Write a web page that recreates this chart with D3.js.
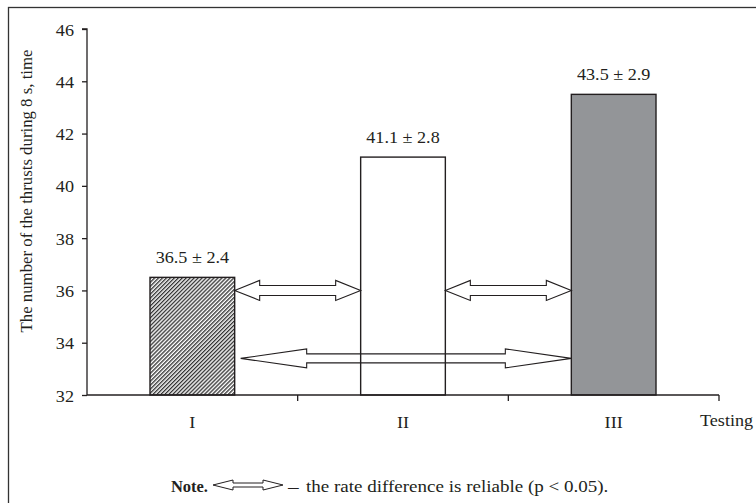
<!DOCTYPE html>
<html>
<head>
<meta charset="utf-8">
<script src="https://cdn.jsdelivr.net/npm/d3@7/dist/d3.min.js"></script>
<style>
  html, body { margin: 0; padding: 0; background: #fff; }
  svg { display: block; }
</style>
</head>
<body>
<svg id="chart" width="756" height="503"></svg>
<script>
// ---- data ----
const categories = ["I", "II", "III"];
const means = [36.5, 41.1, 43.5];
const sds = [2.4, 2.8, 2.9];
const fills = ["hatch", "#ffffff", "#939598"];
const yTicks = [32, 34, 36, 38, 40, 42, 44, 46];
const compFrom = ["I", "II", "I"];
const compTo = ["II", "III", "III"];
const compLevel = [36, 36, 33.4];
const compHead = [25, 25, 66];
const yTitle = "The number of the thrusts during 8 s, time";
const xTitle = "Testing";
const noteBold = "Note.";
const noteDash = "\u2014";
const noteText = "the rate difference is reliable (p < 0.05).";

// ---- layout ----
const FONT = "'Liberation Serif', 'Times New Roman', Tinos, serif";
const SX = 1.1; // horizontal stretch of the source image
const svg = d3.select("#chart");
const X0 = 87, X1 = 719, Y0 = 395, Y1 = 29;
const ink = "#231f20";

function htext(parent, tx, ty, str, size, anchor, sx) {
  return parent.append("text")
    .attr("transform", `translate(${tx},${ty}) scale(${sx || SX},1)`)
    .attr("font-family", FONT).attr("font-size", size).attr("fill", ink)
    .attr("text-anchor", anchor || "start").text(str);
}

svg.append("rect").attr("x", 8.5).attr("y", 7.5).attr("width", 800).attr("height", 600)
  .attr("fill", "none").attr("stroke", "#333").attr("stroke-width", 1.3);

const defs = svg.append("defs");
const pat = defs.append("pattern").attr("id", "hatch").attr("patternUnits", "userSpaceOnUse")
  .attr("width", 2.8).attr("height", 2.8).attr("patternTransform", "rotate(45)");
pat.append("rect").attr("width", 2.8).attr("height", 2.8).attr("fill", "#fff");
pat.append("line").attr("x1", 0.7).attr("y1", 0).attr("x2", 0.7).attr("y2", 2.8)
  .attr("stroke", "#1a1a1a").attr("stroke-width", 1.2);

const x = d3.scaleBand().domain(categories).range([X0, X1]).padding(0);
const y = d3.scaleLinear().domain([32, 46]).range([Y0, Y1]);
const barW = x.bandwidth() * 0.402;
const barX = c => x(c) + (x.bandwidth() - barW) / 2;

// y axis
const yAxis = d3.axisLeft(y).tickValues(yTicks).tickSize(5).tickPadding(8).tickFormat(d3.format("d"));
const gy = svg.append("g").attr("transform", `translate(${X0},0)`).call(yAxis);
gy.select(".domain").attr("stroke", ink).attr("stroke-width", 1.3).attr("d", `M-5,${Y1}H0V${Y0}`);
gy.selectAll(".tick line").attr("stroke", ink).attr("stroke-width", 1.3);
gy.selectAll(".tick text").each(function () {
  const t = d3.select(this);
  const lbl = t.text();
  const tick = d3.select(this.parentNode);
  t.remove();
  htext(tick, -13, 6, lbl, 16.5, "end");
});

// x axis: ticks at band boundaries
const boundaries = categories.map(c => x(c)).concat([X1]);
const gx = svg.append("g");
gx.selectAll("line.t").data(boundaries.slice(1)).join("line").attr("class", "t")
  .attr("x1", d => d).attr("x2", d => d).attr("y1", Y0).attr("y2", Y0 + 6)
  .attr("stroke", ink).attr("stroke-width", 1.3);
categories.forEach(c => htext(gx, x(c) + x.bandwidth() / 2, Y0 + 33, c, 16.5, "middle"));
htext(svg, 700, Y0 + 31, xTitle, 16.5, "start");

// y title
svg.append("text").attr("transform", "translate(32,191) rotate(-90)")
  .attr("font-family", FONT).attr("fill", ink)
  .attr("text-anchor", "middle").attr("font-size", 16.8).text(yTitle);

// bars (fill)
const bars = categories.map((c, i) => ({ c, m: means[i], s: sds[i], f: fills[i] }));
svg.selectAll("rect.bar").data(bars).join("rect").attr("class", "bar")
  .attr("x", d => barX(d.c)).attr("y", d => y(d.m))
  .attr("width", barW).attr("height", d => Y0 - y(d.m))
  .attr("fill", d => d.f === "hatch" ? "url(#hatch)" : d.f).attr("stroke", "none");

// comparison arrows
function dblArrow(x1, x2, yy, h, H, s) {
  return [[x1, yy], [x1 + h, yy - H], [x1 + h, yy - s], [x2 - h, yy - s], [x2 - h, yy - H], [x2, yy],
          [x2 - h, yy + H], [x2 - h, yy + s], [x1 + h, yy + s], [x1 + h, yy + H]];
}
const comps = compFrom.map((f, i) => ({ f, t: compTo[i], lv: compLevel[i], h: compHead[i] }));
svg.selectAll("polygon.cmp").data(comps).join("polygon").attr("class", "cmp")
  .attr("points", (d, i) => {
    const gap = i === 2 ? 6 : 0;
    const xa = barX(d.f) + barW + gap, xb = barX(d.t);
    const H = i === 2 ? 9.5 : 10, s = i === 2 ? 4.5 : 5;
    return dblArrow(xa, xb, y(d.lv), d.h, H, s).map(p => p.join(",")).join(" ");
  })
  .attr("fill", "#fff").attr("stroke", ink).attr("stroke-width", 1.1);

// bar outlines on top
svg.selectAll("rect.outline").data(bars).join("rect").attr("class", "outline")
  .attr("x", d => barX(d.c)).attr("y", d => y(d.m))
  .attr("width", barW).attr("height", d => Y0 - y(d.m))
  .attr("fill", "none").attr("stroke", ink).attr("stroke-width", 1.4);
// baseline
svg.append("line").attr("x1", X0).attr("x2", X1).attr("y1", Y0).attr("y2", Y0)
  .attr("stroke", ink).attr("stroke-width", 1.3);

// value labels
bars.forEach(d => htext(svg, barX(d.c) + barW / 2, y(d.m) - 14,
  `${d.m.toFixed(1)} \u00b1 ${d.s.toFixed(1)}`, 16.5, "middle"));

// note
const noteY = 492;
htext(svg, 208, noteY, noteBold, 16.5, "end", 1.0).attr("font-weight", "bold");
svg.append("polygon").attr("points", dblArrow(213, 283, noteY - 7, 20, 5, 2).map(p => p.join(",")).join(" "))
  .attr("fill", "#fff").attr("stroke", ink).attr("stroke-width", 1);
htext(svg, 288, noteY, noteDash, 17.3, "start", 0.62);
htext(svg, 306, noteY, noteText, 17.3, "start");
</script>
</body>
</html>
